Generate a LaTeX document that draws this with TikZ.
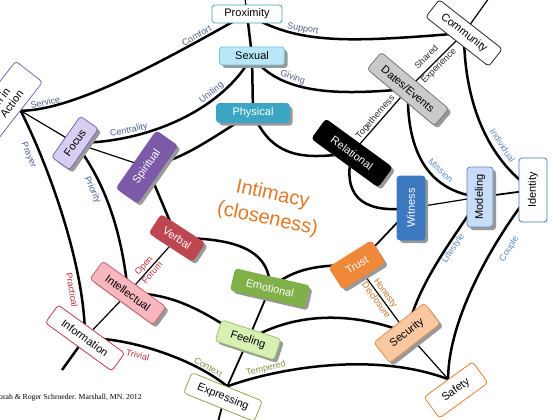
\documentclass[tikz,border=0pt]{standalone}
\usepackage{fontspec}
\setmainfont{Liberation Sans}
\newfontfamily\creditfont{Liberation Serif}
\usepackage{tikz}
\usetikzlibrary{shadows}
\definecolor{proxteal}{RGB}{70,160,182}
\definecolor{sexualfill}{RGB}{184,232,248}
\definecolor{sexualline}{RGB}{120,190,215}
\definecolor{physfill}{RGB}{58,166,196}
\definecolor{datesfill}{RGB}{202,202,202}
\definecolor{datesline}{RGB}{120,120,120}
\definecolor{actionline}{RGB}{120,105,175}
\definecolor{focusfill}{RGB}{216,206,242}
\definecolor{focusline}{RGB}{120,105,175}
\definecolor{spiritfill}{RGB}{124,90,168}
\definecolor{verbalfill}{RGB}{190,70,80}
\definecolor{intelfill}{RGB}{248,182,190}
\definecolor{intelline}{RGB}{200,100,115}
\definecolor{infoline}{RGB}{190,60,75}
\definecolor{emotfill}{RGB}{128,176,72}
\definecolor{feelfill}{RGB}{216,240,180}
\definecolor{feelline}{RGB}{160,195,110}
\definecolor{exprline}{RGB}{140,165,80}
\definecolor{witnessfill}{RGB}{60,120,192}
\definecolor{modelfill}{RGB}{200,220,248}
\definecolor{modelline}{RGB}{100,140,195}
\definecolor{identline}{RGB}{70,115,180}
\definecolor{trustfill}{RGB}{240,136,58}
\definecolor{securfill}{RGB}{250,200,160}
\definecolor{securline}{RGB}{225,145,90}
\definecolor{safetyline}{RGB}{225,130,50}
\definecolor{lblslate}{RGB}{80,95,140}
\definecolor{lblblue}{RGB}{95,140,200}
\definecolor{lblred}{RGB}{190,50,60}
\definecolor{lblolive}{RGB}{130,150,70}
\definecolor{lblorange}{RGB}{210,115,40}
\definecolor{lbldark}{RGB}{40,40,40}
\definecolor{intimacyorange}{RGB}{225,120,40}
\pgfdeclarelayer{background}
\pgfsetlayers{background,main}

\begin{document}
\begin{tikzpicture}[x=1pt, y=-1pt,
  box/.style={draw, rounded corners=3pt, line width=0.8pt, inner sep=2pt, minimum height=22pt, font=\fontsize{11}{12}\selectfont},
  shadowed/.style={box, drop shadow={shadow xshift=3pt, shadow yshift=-3pt, fill=black!40, opacity=1}},
  link/.style={line width=2.5pt},
  midlink/.style={line width=1.8pt},
  thinlink/.style={line width=1.2pt},
  lbl/.style={font=\fontsize{9}{10}\selectfont, inner sep=1pt, sloped}]
  \useasboundingbox (0,0) rectangle (560,420);

  \node[box, draw=proxteal, fill=white, minimum width=70pt, minimum height=18pt] (prox) at (247,14) {Proximity};
  \node[shadowed, draw=sexualline, fill=sexualfill, minimum width=65pt, minimum height=18pt] (sexual) at (252,56) {Sexual};
  \node[shadowed, draw=physfill, fill=physfill, text=white, minimum width=73pt, minimum height=19pt] (phys) at (253,113) {Physical};
  \node[box, draw=black!85, fill=white, minimum width=80pt, rotate=-38] (comm) at (464,33) {Community};
  \node[shadowed, draw=datesline, fill=datesfill, minimum width=88pt, rotate=-40] (dates) at (408,89) {Dates/Events};
  \node[shadowed, draw=black, fill=black, text=white, minimum width=82pt, minimum height=24pt, rotate=-36] (rel) at (352,153) {Relational};
  \node[box, draw=actionline, fill=white, minimum width=72pt, minimum height=34pt, align=center, rotate=52] (action) at (7,100) {n in\\Action};
  \node[shadowed, draw=focusline, fill=focusfill, minimum width=50pt, rotate=55] (focus) at (75,143) {Focus};
  \node[shadowed, draw=spiritfill, fill=spiritfill, text=white, minimum width=70pt, minimum height=26pt, rotate=55] (spirit) at (147,167) {Spiritual};
  \node[shadowed, draw=verbalfill, fill=verbalfill, text=white, minimum width=52pt, rotate=-33] (verbal) at (177,238) {Verbal};
  \node[shadowed, draw=intelline, fill=intelfill, minimum width=78pt, rotate=-36] (intel) at (128,293) {Intellectual};
  \node[box, draw=infoline, fill=white, minimum width=82pt, rotate=-36] (info) at (85,338) {Information};
  \node[shadowed, draw=emotfill, fill=emotfill, text=white, minimum width=76pt, rotate=-13] (emot) at (270,288) {Emotional};
  \node[shadowed, draw=feelline, fill=feelfill, minimum width=62pt, rotate=-18] (feel) at (248,340) {Feeling};
  \node[box, draw=exprline, fill=white, minimum width=76pt, rotate=-22] (expr) at (223,397) {Expressing};
  \node[shadowed, draw=witnessfill, fill=witnessfill, text=white, minimum width=64pt, minimum height=28pt, rotate=90] (witness) at (411,208) {Witness};
  \node[shadowed, draw=modelline, fill=modelfill, minimum width=60pt, minimum height=26pt, rotate=90] (model) at (480,197) {Modeling};
  \node[box, draw=identline, fill=white, minimum width=64pt, minimum height=28pt, rotate=90] (ident) at (533,190) {Identity};
  \node[shadowed, draw=trustfill, fill=trustfill, text=white, minimum width=50pt, minimum height=26pt, rotate=32] (trust) at (357,265) {Trust};
  \node[shadowed, draw=securline, fill=securfill, minimum width=64pt, minimum height=26pt, rotate=38] (secur) at (407,333) {Security};
  \node[box, draw=safetyline, fill=white, minimum width=60pt, minimum height=26pt, rotate=36] (safety) at (456,390) {Safety};

  \node[text=intimacyorange, font=\fontsize{20}{25}\selectfont, align=center, rotate=-12] (intimacy) at (270,207) {Intimacy\\(closeness)};
  \node[font=\creditfont\fontsize{7.7}{8}\selectfont, anchor=west, inner sep=0pt] (credit) at (-1,398) {orah \& Roger Schroeder. Marshall, MN. 2012};

  \coordinate (proxtop) at (245,-2);
  \coordinate (commtop) at (489,-2);
  \coordinate (infoend) at (62,370);
  \coordinate (exprend) at (218,422);

  \begin{pgfonlayer}{background}
  \fill[white] (0,0) rectangle (560,420);
  \draw[thinlink] (prox.center) -- (proxtop);
  \draw[thinlink] (comm.center) -- (commtop);
  \draw[link] (prox.center) -- (sexual.center) -- (phys.center);

  \draw[link] (action.south) .. controls +(60,0) and +(-55,30) .. (prox.center)
    node[lbl, text=lblslate, pos=0.13, above] {Service}
    node[lbl, text=lblslate, pos=0.76, above] {Comfort};
  \draw[link] (prox.center) .. controls +(50,30) and +(-120,10) .. (comm.center)
    node[lbl, text=lblslate, pos=0.35, above] {Support};
  \draw[link] (focus.center) .. controls +(75,0) and +(-28,52) .. (sexual.center)
    node[lbl, text=lblslate, pos=0.25, above] {Centrality}
    node[lbl, text=lblslate, pos=0.7, above] {Uniting};
  \draw[link] (sexual.center) .. controls +(30,42) and +(-60,5) .. (dates.center)
    node[lbl, text=lblslate, pos=0.32, above] {Giving};

  \draw[thinlink] (rel.center) -- (dates.center)
    node[lbl, text=lbldark, pos=0.5, above] {Togetherness}
    -- (comm.center)
    node[lbl, text=lbldark, pos=0.45, above=5pt] {Shared}
    node[lbl, text=lbldark, pos=0.48, below] {Experience};
  \draw[link] (comm.center) .. controls +(0,70) and +(-45,-30) .. (ident.center)
    node[lbl, text=lblblue, pos=0.66, above=4pt] {Individual};
  \draw[link] (dates.center) .. controls +(-2,65) and +(-50,-5) .. (model.center)
    node[lbl, text=lblblue, pos=0.62, above=4pt] {Mission};

  \draw[link] (spirit.center) .. controls +(40,-8) and +(-35,20) .. (phys.center);
  \draw[link] (phys.center) .. controls +(20,50) and +(-40,5) .. (rel.center);
  \draw[link] (rel.center) .. controls +(-12,50) and +(-40,5) .. (witness.center);
  \draw[link] (spirit.center) -- (verbal.center);
  \draw[link] (verbal.center) .. controls +(65,0) and +(0,-35) .. (emot.center);

  \draw[thinlink] (action.south) -- (focus.center) -- (spirit.center);
  \draw[link] (focus.center) .. controls +(35,45) and +(-5,-50) .. (intel.center)
    node[lbl, text=lblslate, pos=0.3, below=3pt] {Priority};
  \draw[link] (action.south) .. controls +(30,60) and +(0,-70) .. (info.center)
    node[lbl, text=lblslate, pos=0.2, below=5pt] {Prayer}
    node[lbl, text=lblred, pos=0.78, below=3pt] {Practical};
  \draw[link] (info.center) -- (infoend);
  \draw[thinlink] (info.center) -- (intel.center) -- (verbal.center)
    node[lbl, text=lblred, pos=0.42, above] {Open}
    node[lbl, text=lblred, pos=0.42, below] {Forum};

  \draw[link] (intel.center) .. controls +(50,0) and +(-40,-25) .. (feel.center);
  \draw[link] (info.center) .. controls +(50,0) and +(-30,-25) .. (expr.north)
    node[lbl, text=lblred, pos=0.35, below=4pt] {Trivial}
    node[lbl, text=lblolive, pos=0.8, above] {Context};
  \draw[link] (feel.center) .. controls +(50,-30) and +(-50,-20) .. (secur.center);
  \draw[midlink] (emot.center) -- (feel.center) -- (expr.north) -- (exprend);
  \draw[link] (emot.center) .. controls +(25,-20) and +(-40,0) .. (trust.center);
  \draw[midlink] (trust.center) -- (witness.center);
  \draw[thinlink] (trust.center) -- (secur.center)
    node[lbl, text=lblorange, pos=0.47, above] {Honesty}
    node[lbl, text=lblorange, pos=0.47, below] {Disclosure};
  \draw[thinlink] (secur.center) -- (safety.north);
  \draw[link] (expr.north) .. controls +(40,-15) and +(-80,-30) .. (safety.north)
    node[lbl, text=lblolive, pos=0.25, above] {Tempered};
  \draw[link] (secur.center) .. controls +(10,-50) and +(-25,40) .. (model.center)
    node[lbl, text=lblblue, pos=0.62, below] {Lifestyle};
  \draw[link] (safety.north) .. controls +(0,-60) and +(-40,50) .. (ident.center)
    node[lbl, text=lblblue, pos=0.7, below=8pt] {Couple};
  \draw[thinlink] (witness.center) -- (model.center);
  \draw[midlink] (model.center) -- (ident.center);
  \end{pgfonlayer}
\end{tikzpicture}
\end{document}
